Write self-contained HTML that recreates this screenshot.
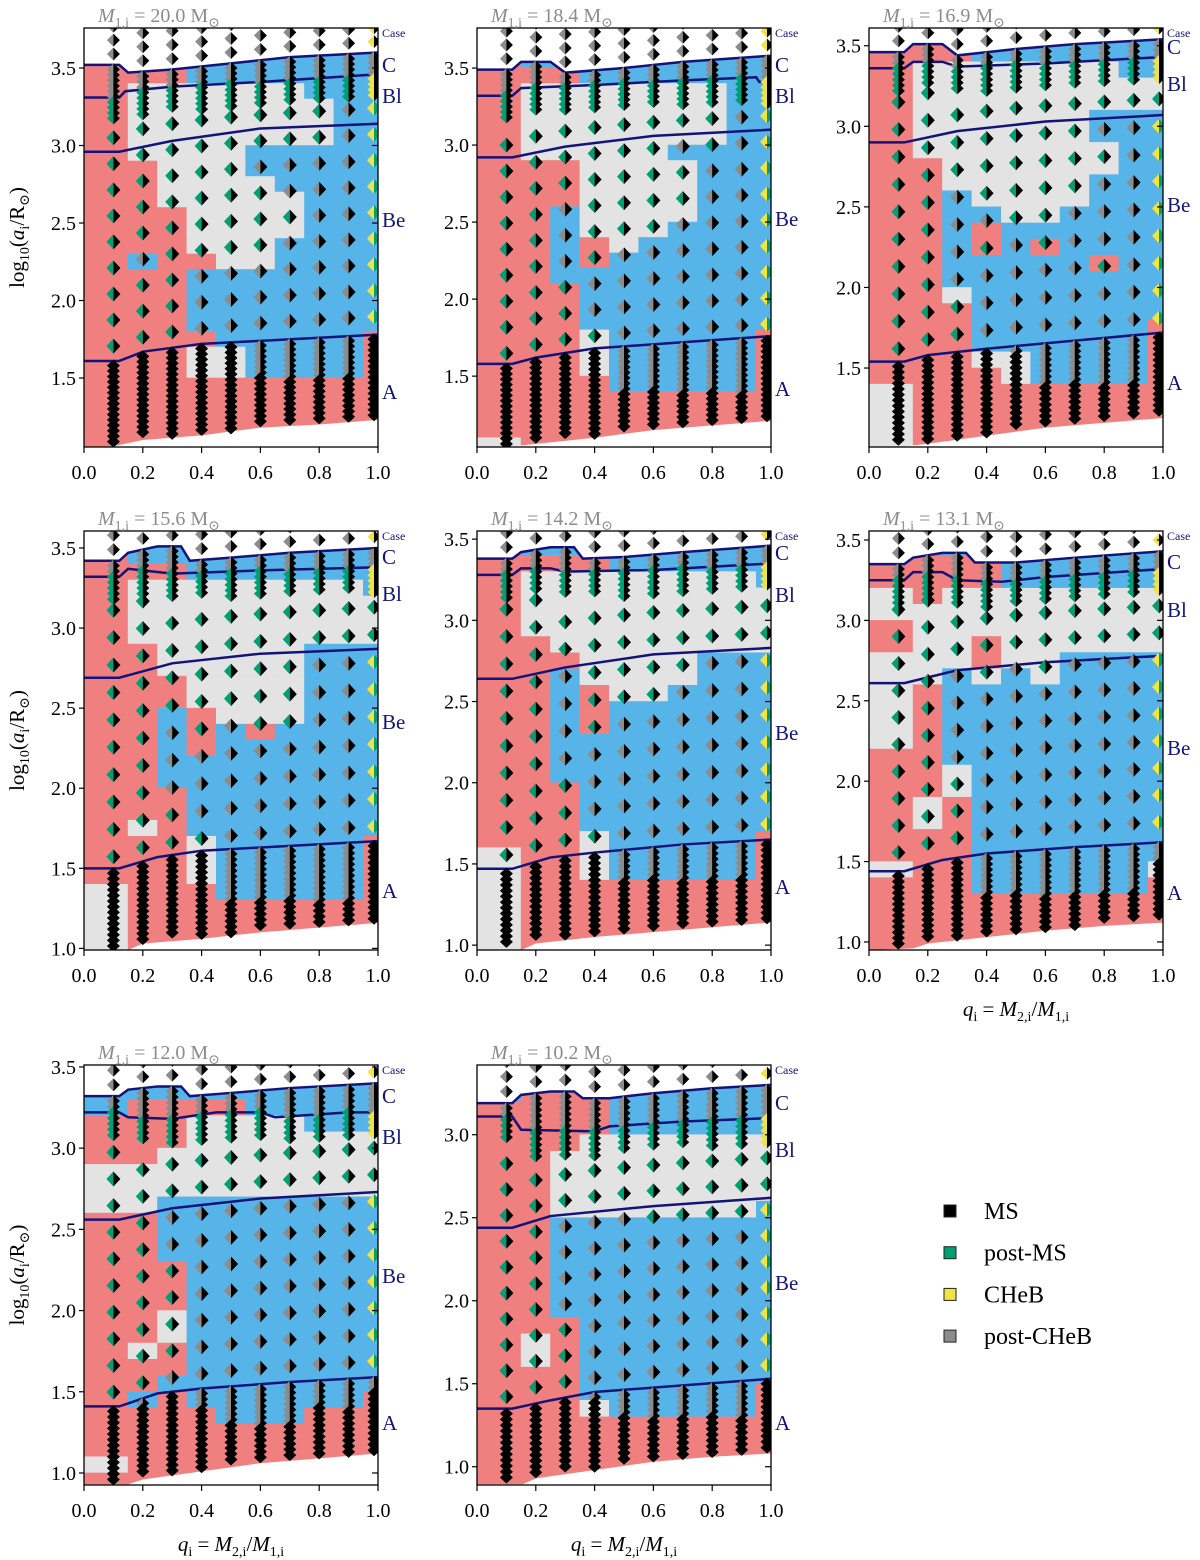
<!DOCTYPE html>
<html><head><meta charset="utf-8">
<style>
html,body{margin:0;padding:0;background:#fff;}
svg{display:block;font-family:"Liberation Serif","DejaVu Serif",serif;}
</style></head>
<body>
<svg id="chart" width="1200" height="1560" viewBox="0 0 1200 1560" xmlns="http://www.w3.org/2000/svg"></svg>
<script>
// ---------------- data ----------------
const masses = ["20.0","18.4","16.9","15.6","14.2","13.1","12.0","10.2"];
const yLo = [1.055,1.04,1.01,0.99,0.97,0.95,0.926,0.89];
const yHi = [3.758,3.76,3.61,3.606,3.55,3.556,3.512,3.42];
const yTicks = [
 [1.5,2.0,2.5,3.0,3.5],[1.5,2.0,2.5,3.0,3.5],[1.5,2.0,2.5,3.0,3.5],
 [1.0,1.5,2.0,2.5,3.0,3.5],[1.0,1.5,2.0,2.5,3.0,3.5],[1.0,1.5,2.0,2.5,3.0,3.5],
 [1.0,1.5,2.0,2.5,3.0,3.5],[1.0,1.5,2.0,2.5,3.0]];
const xTicks = [0.0,0.2,0.4,0.6,0.8,1.0];
const qValues = [0.1,0.2,0.3,0.4,0.5,0.6,0.7,0.8,0.9,1.0];
const lineC = [
 [[0,3.52],[0.12,3.52],[0.15,3.47],[0.3,3.49],[0.5,3.53],[0.7,3.57],[1,3.6]],
 [[0,3.49],[0.12,3.49],[0.15,3.54],[0.25,3.54],[0.3,3.47],[0.5,3.5],[0.7,3.54],[1,3.58]],
 [[0,3.46],[0.12,3.46],[0.15,3.51],[0.25,3.51],[0.3,3.44],[0.5,3.48],[0.7,3.51],[1,3.54]],
 [[0,3.42],[0.12,3.42],[0.15,3.47],[0.25,3.51],[0.33,3.51],[0.36,3.42],[0.5,3.44],[0.7,3.47],[1,3.5]],
 [[0,3.38],[0.12,3.38],[0.15,3.42],[0.25,3.45],[0.33,3.45],[0.36,3.38],[0.5,3.39],[0.7,3.42],[1,3.46]],
 [[0,3.35],[0.12,3.35],[0.15,3.39],[0.25,3.42],[0.33,3.42],[0.36,3.36],[0.5,3.36],[0.7,3.39],[1,3.43]],
 [[0,3.32],[0.12,3.32],[0.15,3.36],[0.25,3.38],[0.33,3.38],[0.36,3.32],[0.5,3.34],[0.7,3.37],[1,3.40]],
 [[0,3.19],[0.12,3.19],[0.15,3.24],[0.25,3.26],[0.33,3.26],[0.36,3.22],[0.45,3.22],[0.6,3.25],[0.8,3.28],[1,3.30]]];
const lineBl = [
 [[0,3.31],[0.12,3.31],[0.14,3.35],[0.3,3.38],[0.6,3.41],[1,3.46]],
 [[0,3.32],[0.12,3.32],[0.15,3.37],[0.4,3.39],[0.7,3.42],[0.95,3.44],[0.96,3.41],[1,3.41]],
 [[0,3.36],[0.12,3.36],[0.15,3.40],[0.25,3.40],[0.3,3.37],[0.6,3.39],[1,3.43]],
 [[0,3.32],[0.12,3.32],[0.15,3.37],[0.25,3.35],[0.3,3.34],[0.6,3.36],[1,3.38]],
 [[0,3.28],[0.12,3.28],[0.15,3.32],[0.25,3.32],[0.3,3.30],[0.6,3.31],[1,3.35]],
 [[0,3.25],[0.12,3.25],[0.15,3.30],[0.25,3.30],[0.3,3.25],[0.45,3.24],[0.6,3.27],[1,3.32]],
 [[0,3.22],[0.12,3.22],[0.15,3.19],[0.3,3.18],[0.45,3.22],[0.6,3.22],[0.65,3.19],[0.9,3.22],[1,3.22]],
 [[0,3.11],[0.12,3.11],[0.15,3.03],[0.4,3.02],[0.45,3.05],[0.7,3.08],[1,3.10]]];
const lineBe = [
 [[0,2.96],[0.12,2.96],[0.3,3.03],[0.6,3.11],[1,3.14]],
 [[0,2.92],[0.12,2.92],[0.3,2.99],[0.6,3.06],[1,3.10]],
 [[0,2.90],[0.12,2.90],[0.3,2.97],[0.6,3.03],[1,3.07]],
 [[0,2.69],[0.12,2.69],[0.3,2.78],[0.6,2.84],[1,2.87]],
 [[0,2.64],[0.12,2.64],[0.3,2.71],[0.6,2.79],[1,2.83]],
 [[0,2.61],[0.12,2.61],[0.3,2.69],[0.6,2.74],[1,2.78]],
 [[0,2.56],[0.12,2.56],[0.3,2.63],[0.6,2.69],[1,2.73]],
 [[0,2.44],[0.12,2.44],[0.25,2.51],[0.6,2.57],[1,2.62]]];
const lineA = [
 [[0,1.61],[0.12,1.61],[0.2,1.67],[0.4,1.72],[0.6,1.74],[1,1.78]],
 [[0,1.58],[0.12,1.58],[0.2,1.62],[0.4,1.68],[0.7,1.72],[1,1.76]],
 [[0,1.54],[0.12,1.54],[0.2,1.58],[0.4,1.62],[0.7,1.67],[1,1.72]],
 [[0,1.50],[0.12,1.50],[0.25,1.57],[0.4,1.61],[0.7,1.64],[1,1.67]],
 [[0,1.47],[0.12,1.47],[0.25,1.54],[0.4,1.57],[0.7,1.62],[1,1.65]],
 [[0,1.44],[0.12,1.44],[0.25,1.51],[0.4,1.55],[0.7,1.59],[1,1.62]],
 [[0,1.41],[0.12,1.41],[0.25,1.49],[0.4,1.52],[0.7,1.56],[1,1.59]],
 [[0,1.35],[0.12,1.35],[0.25,1.40],[0.4,1.45],[0.7,1.49],[1,1.53]]];
const lineBottom = [
 [[0,1.05],[0.1,1.06],[0.2,1.10],[0.4,1.13],[0.6,1.18],[0.8,1.20],[1,1.23]],
 [[0,1.04],[0.1,1.04],[0.2,1.06],[0.4,1.10],[0.6,1.15],[0.8,1.18],[1,1.21]],
 [[0,1.01],[0.1,1.01],[0.2,1.03],[0.4,1.08],[0.6,1.13],[0.8,1.16],[1,1.19]],
 [[0,0.99],[0.15,0.99],[0.2,1.03],[0.4,1.06],[0.6,1.10],[0.8,1.13],[1,1.16]],
 [[0,0.97],[0.15,0.97],[0.2,1.01],[0.4,1.05],[0.6,1.08],[0.8,1.11],[1,1.14]],
 [[0,0.95],[0.15,0.96],[0.2,0.99],[0.4,1.03],[0.6,1.07],[0.8,1.10],[1,1.12]],
 [[0,0.93],[0.15,0.93],[0.2,0.96],[0.4,1.01],[0.6,1.06],[0.8,1.09],[1,1.12]],
 [[0,0.89],[0.15,0.89],[0.2,0.93],[0.4,0.98],[0.6,1.03],[0.8,1.06],[1,1.08]]];
// region grid: rows of 0.1 in log a from 3.8 downward; columns q cells centred on 0.1..1.0
const regionGrid = [
 ["bbbbbbbbbb","bbbbbbbbbb","rbbbbbbbbb","rrrbbbbbbb","rggggggbbb","rgggggggbb","rgggggggbb","rgggggggbb","rggggbbbbb","rrgggbbbbb","rrggggbbbb","rrgggggbbb","rrrggggbbb","rrrggggbbb","rrrgggbbbb","rbrrggbbbb","rrrbbbbbbb","rrrbbbbbbb","rrrbbbbbbb","rrrbbbbbbb","rrrrbbbbbr","rrrggbbbbr","rrrggbbbbr","rrrrrrrrrr","rrrrrrrrrr","rrrrrrrrrr","rrrrrrrrrr","rrrrrrrrrr","rrrrrrrrrr"],
 ["bbbbbbbbbb","bbbbbbbbbb","rbbbbbbbbb","rrrbbbbbbb","rgggggggbb","rgggggggbb","rgggggggbb","rgggggggbb","rgggggbbbb","rrrggggbbb","rrrggggbbb","rrrggggbbb","rrbggggbbb","rrbgggbbbb","rrbrgbbbbb","rrbrbbbbbb","rrbbbbbbbb","rrrbbbbbbb","rrrbbbbbbb","rrrbbbbbbb","rrrgbbbbbr","rrrgbbbbbr","rrrgbbbbbr","rrrrbbbbbr","rrrrrrrrrr","rrrrrrrrrr","rrrrrrrrrr","grrrrrrrrr","grrrrrrrrr"],
 ["bbbbbbbbbb","bbbbbbbbbb","bbbbbbbbbb","rrrbbbbbbb","rgggggggbb","rggggggggg","rggggggggg","rggggggbbb","rggggggbbb","rgggggggbb","rrggggggbb","rrgggggbbb","rrbggggbbb","rrbbggbbbb","rrbrbbbbbb","rrbrbrbbbb","rrbbbbbrbb","rrbbbbbbbb","rrgbbbbbbb","rrrbbbbbbb","rrrbbbbbbr","rrrbbbbbbr","rrrggbbbbr","rrrrgbbbbr","grrrrrrrrr","grrrrrrrrr","grrrrrrrrr","grrrrrrrrr","grrrrrrrrr"],
 ["bbbbbbbbbb","bbbbbbbbbb","bbbbbbbbbb","rbbbbbbbbb","rrrbbbbbbb","rggggggggb","rggggggggg","rggggggggg","rggggggggg","rrgggggbbb","rrgggggbbb","rrrggggbbb","rrrggggbbb","rrbrgggbbb","rrbrbrbbbb","rrbrbbbbbb","rrbbbbbbbb","rrbbbbbbbb","rrrbbbbbbb","rrrbbbbbbb","rgrbbbbbbb","rrrgbbbbbr","rrrgbbbbbr","rrrgbbbbbr","grrrbbbbbr","grrrrrrrrr","grrrrrrrrr","grrrrrrrrr","grrrrrrrrr"],
 ["bbbbbbbbbb","bbbbbbbbbb","bbbbbbbbbb","rbbbbbbbbb","rrrrbbbbbb","rggggggggb","rggggggggg","rggggggggg","rggggggggg","rrgggggggg","rrrggggbbb","rrbggggbbb","rrbrggbbbb","rrbrbbbbbb","rrbrbbbbbb","rrbbbbbbbb","rrbbbbbbbb","rrbbbbbbbb","rrrbbbbbbb","rrrbbbbbbb","rrrbbbbbbb","rrrgbbbbbr","grrgbbbbbr","grrgbbbbbr","grrrrrrrrr","grrrrrrrrr","grrrrrrrrr","grrrrrrrrr","grrrrrrrrr"],
 ["bbbbbbbbbb","bbbbbbbbbb","bbbbbbbbbb","rbbbbbbbbb","rrrrbbbbbb","rrrrbbbbbb","grgggggggg","gggggggggg","rggggggggg","rggrgggggg","gggrggbbbb","ggbgbgbbbb","grbbbbbbbb","grbbbbbbbb","grbbbbbbbb","grbbbbbbbb","rrbbbbbbbb","rrgbbbbbbb","rrgbbbbbbb","rgrbbbbbbb","rgrbbbbbbb","rrrbbbbbbb","rrrbbbbbbb","grrbbbbbbg","rrrbbbbbbr","rrrrrrrrrr","rrrrrrrrrr","rrrrrrrrrr","rrrrrrrrrr"],
 ["bbbbbbbbbb","bbbbbbbbbb","bbbbbbbbbb","bbbbbbbbbb","bbbbbbbbbb","brrrrbbbbb","rrrggggbbb","rrrggggggg","rrgggggggg","gggggggggg","gggggggggg","ggbbbbbbbb","rrbbbbbbbb","rrbbbbbbbb","rrbbbbbbbb","rrrbbbbbbb","rrrbbbbbbb","rrrbbbbbbb","rrgbbbbbbb","rrgbbbbbbb","rgrbbbbbbb","rrrbbbbbbb","rrbbbbbbbb","rbrbbbbbbr","rrrrbbbrrr","rrrrrrrrrr","rrrrrrrrrr","grrrrrrrrr","rrrrrrrrrr"],
 ["bbbbbbbbbb","bbbbbbbbbb","bbbbbbbbbb","bbbbbbbbbb","bbbbbbbbbb","brrrbbbbbb","rrrrbbbbbb","rrrrbbbbbb","rrrggggggg","rrgggggggg","rrgggggggg","rrgggggggg","rrgggggggb","rrbbbbbbbb","rrbbbbbbbb","rrbbbbbbbb","rrbbbbbbbb","rrbbbbbbbb","rrbbbbbbbb","rrrbbbbbbb","rgrbbbbbbb","rgrbbbbbbb","rrrbbbbbbb","rrrbbbbbbr","rrrgbbbbbr","rrrrrrrrrr","rrrrrrrrrr","rrrrrrrrrr","rrrrrrrrrr"]];
const markerAnchor = [3.05,3.0,2.98,2.94,2.90,2.90,2.81,2.67];
const markerStep = [0.168,0.169,0.17,0.171,0.168,0.168,0.164,0.156];

// ---------------- layout ----------------
const colX = [84,477,869], plotW = 294;
const rowTop = [28,531,1065], rowBot = [447,950,1485];
const panelCol = [0,1,2,0,1,2,0,1], panelRow = [0,0,0,1,1,1,2,2];
const labCY = [65,65,47,557,553,562,1096,1103];
const labBlY = [96,96,84,594,595,610,1137,1150];
const labBeY = [220,219,205,722,733,748,1276,1283];
const labAY = [392,389,383,891,887,893,1423,1423];
const COL = {r:'#f08080', b:'#56b4e9', g:'#e3e3e3'};
const NAVY = '#13137a', GREEN='#009e73', YEL='#f0e442', GRY='#8c8c8c';

const NS='http://www.w3.org/2000/svg';
const svg=document.getElementById('chart');
function mk(tag, attrs, parent){const e=document.createElementNS(NS,tag);for(const k in attrs)e.setAttribute(k,attrs[k]);(parent||svg).appendChild(e);return e;}
function interp(pairs,q){ if(q<=pairs[0][0])return pairs[0][1]; for(let i=1;i<pairs.length;i++){ if(q<=pairs[i][0]){const [q0,v0]=pairs[i-1],[q1,v1]=pairs[i]; return v0+(v1-v0)*(q-q0)/(q1-q0);} } return pairs[pairs.length-1][1]; }
function cellCode(p,q,a){ let c = q<0.15?0:(q>=0.95?9:Math.floor((q-0.05)/0.1)); if(c>9)c=9; let r=Math.floor((3.8-a)/0.1+1e-9); const g=regionGrid[p]; if(r<0)r=0; if(r>=g.length)r=g.length-1; return g[r][c]; }

function diamond(parent,x,y,w,h,lc,rc){
  const l=mk('polygon',{points:`${x-w},${y} ${x},${y-h} ${x},${y+h}`,fill:lc},parent);
  
  
  const r=mk('polygon',{points:`${x},${y-h} ${x+w},${y} ${x},${y+h}`,fill:rc},parent);
  
  
}

const defs=mk('defs',{});
for(let p=0;p<8;p++){
  const x0=colX[panelCol[p]], top=rowTop[panelRow[p]], bot=rowBot[panelRow[p]];
  const X=q=>x0+q*plotW;
  const Y=a=>top+(yHi[p]-a)/(yHi[p]-yLo[p])*(bot-top);
  const g=mk('g',{});
  
  
  const cp=mk('clipPath',{id:'clip'+p},defs);
  mk('rect',{x:x0,y:top,width:plotW,height:bot-top},cp);
  const plot=mk('g',{'clip-path':`url(#clip${p})`},g);
  
  
  const grid=regionGrid[p];
  for(let r=0;r<grid.length;r++){
    const aT=3.8-0.1*r, aB=aT-0.1;
    let c=0;
    while(c<10){
      let e=c; while(e+1<10 && grid[r][e+1]===grid[r][c]) e++;
      const qL=c===0?0:0.05+0.1*c, qR=e===9?1:0.15+0.1*e;
      const code=grid[r][c];
      const rc=mk('rect',{x:X(qL),y:Y(aT),width:X(qR)-X(qL),height:Y(aB)-Y(aT)+0.6,fill:COL[code],stroke:COL[code],'stroke-width':0.6},plot);
      
      
      c=e+1;
    }
  }
  let ptsTop=[],ptsBot=[];
  for(let i=0;i<=100;i++){const q=i/100; ptsTop.push(`${X(q)},${Y(interp(lineC[p],q))}`); ptsBot.push(`${X(q)},${Y(interp(lineBottom[p],q))}`);}
  const wt=mk('polygon',{points:ptsTop.join(' ')+` ${X(1)},${top-5} ${X(0)},${top-5}`,fill:'#fff'},plot);
  
  
  const wb=mk('polygon',{points:ptsBot.join(' ')+` ${X(1)},${bot+5} ${X(0)},${bot+5}`,fill:'#fff'},plot);
  
  
  const lines=[[lineC,'case-c-boundary'],[lineBl,'case-bl-boundary'],[lineBe,'case-be-boundary'],[lineA,'case-a-boundary']];
  for(const [arr,nm] of lines){
    const pts=arr[p].map(([q,a])=>`${X(q)},${Y(a)}`).join(' ');
    const pl=mk('polyline',{points:pts,fill:'none',stroke:NAVY,'stroke-width':2.5},plot);
    
    
  }
  const mg=mk('g',{},plot);
  
  
  for(const q of qValues){
    const x=X(q)-(q===1?4:0);
    const off=0.19*Math.log10(q/0.1);
    const aC=interp(lineC[p],q), aBl=interp(lineBl[p],q), aA=interp(lineA[p],q), aBt=interp(lineBottom[p],q);
    for(let a=aC+0.07;a<yHi[p]+0.05;a+=0.09){ diamond(mg,x,Y(a),6.5,6.5,(q===1?YEL:GRY),'#000'); }
    for(let a=aC-0.03;a>aBl-0.16;a-=0.035){ const lc = a>aBl ? GRY : (q===1?YEL:GREEN); diamond(mg,x,Y(a),6.5,6,lc,'#000'); }
    for(let k=-25;k<25;k++){
      const a=markerAnchor[p]+off+k*markerStep[p];
      if(a<=aA+0.04 || a>=aBl-0.17) continue;
      const code=cellCode(p,q,a);
      let lc = code==='b'?GRY:GREEN, rc='#000';
      if(q===1 && code==='b'){lc=YEL; rc=GREEN;}
      diamond(mg,x,Y(a),7,7.5,lc,rc);
    }
    for(let a=aA-0.03;a>aBt+0.02;a-=0.035){
      const code=cellCode(p,q,a);
      const lc = code==='b'?GRY:'#000';
      diamond(mg,x,Y(a),6.5,6,lc,'#000');
    }
  }
  const fr=mk('rect',{x:x0,y:top,width:plotW,height:bot-top,fill:'none',stroke:'#000','stroke-width':1.3},g);
  
  
  for(const t of yTicks[p]){
    const y=Y(t);
    const tk=mk('line',{x1:x0-5,x2:x0,y1:y,y2:y,stroke:'#000','stroke-width':1.2},g);
    
    
    const tk2=mk('line',{x1:x0+plotW-6,x2:x0+plotW,y1:y,y2:y,stroke:'#000','stroke-width':1.2},g);
    
    
    const tl=mk('text',{x:x0-8,y:y+7,'text-anchor':'end','font-size':20,fill:'#000'},g);
    tl.textContent=t.toFixed(1);
    
    
  }
  for(const t of xTicks){
    const x=X(t);
    const tk=mk('line',{x1:x,x2:x,y1:bot,y2:bot+6,stroke:'#000','stroke-width':1.2},g);
    
    
    const tl=mk('text',{x:x,y:bot+32,'text-anchor':'middle','font-size':20,fill:'#000'},g);
    tl.textContent=t.toFixed(1);
    
    
  }
  const tt=mk('text',{x:x0+14,y:top-6,'font-size':20,fill:'#8c8c8c'},g);
  
  
  tt.innerHTML=`<tspan font-style="italic">M</tspan><tspan font-size="14" dy="5">1,i</tspan><tspan dy="-5"> = ${masses[p]} M</tspan><tspan font-size="14" dy="5">⊙</tspan>`;
  const xl=x0+plotW+4;
  const cs=mk('text',{x:xl,y:top+9,'font-size':12,fill:NAVY},g);
  cs.textContent='Case';
  
  
  const labs=[['C',labCY[p],'case-c-label'],['Bl',labBlY[p],'case-bl-label'],['Be',labBeY[p],'case-be-label'],['A',labAY[p],'case-a-label']];
  for(const [t,y,nm] of labs){
    const tx=mk('text',{x:xl,y:y+7,'font-size':21,fill:NAVY},g);
    tx.textContent=t;
    
    
  }
  if(panelCol[p]===0){
    const cy=(top+bot)/2;
    const yl=mk('text',{x:0,y:0,'font-size':21,fill:'#000','text-anchor':'middle',transform:`translate(24,${cy}) rotate(-90)`},g);
    
    
    yl.innerHTML='log<tspan font-size="14" dy="5">10</tspan><tspan dy="-5">(</tspan><tspan font-style="italic">a</tspan><tspan font-size="14" dy="5">i</tspan><tspan dy="-5">/R</tspan><tspan font-size="14" dy="5">⊙</tspan><tspan dy="-5">)</tspan>';
  }
  if(p>=5){
    const xlb=mk('text',{x:x0+plotW/2,y:bot+66,'font-size':21,fill:'#000','text-anchor':'middle'},g);
    
    
    xlb.innerHTML='<tspan font-style="italic">q</tspan><tspan font-size="14" dy="5">i</tspan><tspan dy="-5"> = </tspan><tspan font-style="italic">M</tspan><tspan font-size="14" dy="5">2,i</tspan><tspan dy="-5">/</tspan><tspan font-style="italic">M</tspan><tspan font-size="14" dy="5">1,i</tspan>';
  }
}
const legendLabels=["MS","post-MS","CHeB","post-CHeB"];
const legendColors=["#000",GREEN,YEL,GRY];
const lg=mk('g',{});


legendLabels.forEach((lab,i)=>{
  const y=1211+i*41.7;
  const sq=mk('rect',{x:944,y:y-6,width:12,height:12,fill:legendColors[i],stroke:'#222','stroke-width':1},lg);
  
  
  const tx=mk('text',{x:984,y:y+8,'font-size':24,fill:'#000'},lg);
  tx.textContent=lab;
  
  
});
</script>
</body></html>
